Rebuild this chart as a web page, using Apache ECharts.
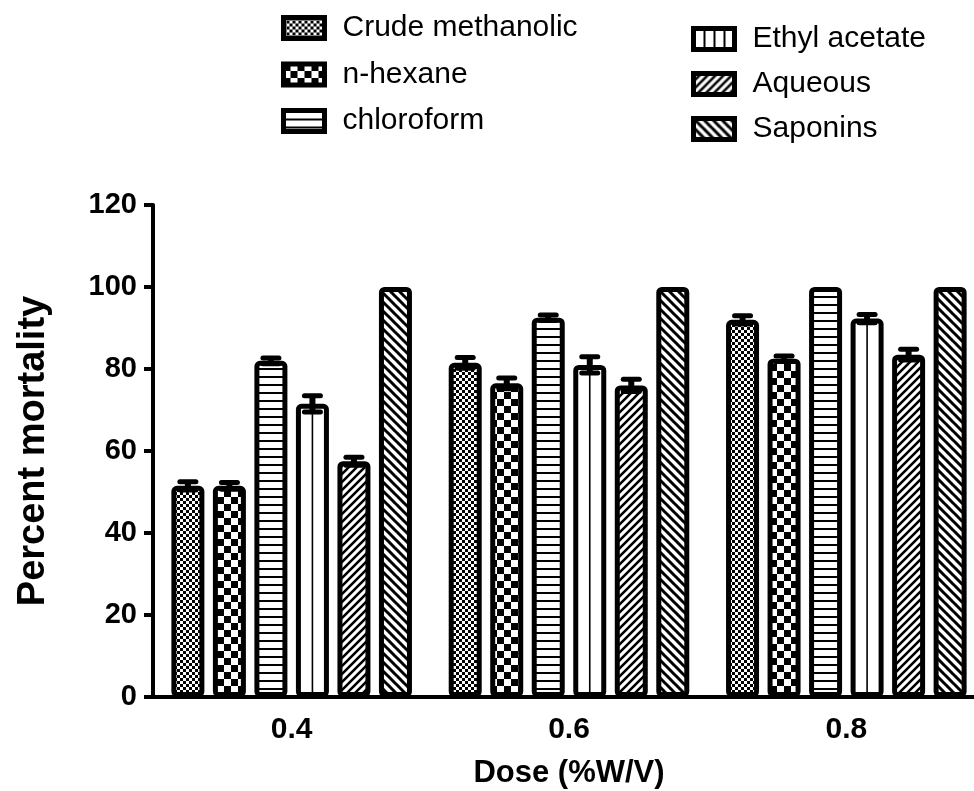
<!DOCTYPE html>
<html>
<head>
<meta charset="utf-8">
<script src="https://cdn.jsdelivr.net/npm/echarts@6/dist/echarts.min.js"></script>
<style>
html,body{margin:0;padding:0;background:#fff;}
#chart{width:974px;height:791px;}
</style>
</head>
<body>
<div id="chart"></div>
<script>
// ---- data ----
const categories = ['0.4', '0.6', '0.8'];
const seriesNames = ['Crude methanolic', 'n-hexane', 'chloroform', 'Ethyl acetate', 'Aqueous', 'Saponins'];
const crudeMethanolic = [51.5, 81.5, 92];
const nHexane = [51.5, 76.5, 82.5];
const chloroform = [82, 92.5, 100];
const ethylAcetate = [71.5, 81, 92.3];
const aqueous = [57.5, 76, 83.5];
const saponins = [100, 100, 100];
const crudeMethanolicErr = [1, 1.3, 1];
const nHexaneErr = [0.8, 1.3, 0.7];
const chloroformErr = [0.7, 0.7, 0];
const ethylAcetateErr = [2, 2, 1];
const aqueousErr = [1, 1.5, 1.3];
const saponinsErr = [0, 0, 0];
const yTicks = [0, 20, 40, 60, 80, 100, 120];

const values = [crudeMethanolic, nHexane, chloroform, ethylAcetate, aqueous, saponins];
const errors = [crudeMethanolicErr, nHexaneErr, chloroformErr, ethylAcetateErr, aqueousErr, saponinsErr];

// ---- patterns ----
function makeCanvas(w, h, draw) {
  const c = document.createElement('canvas');
  c.width = w; c.height = h;
  const ctx = c.getContext('2d');
  ctx.fillStyle = '#fff'; ctx.fillRect(0, 0, w, h);
  ctx.fillStyle = '#000'; ctx.strokeStyle = '#000';
  draw(ctx, w, h);
  return c;
}
function checker(cell) {
  return makeCanvas(cell * 2, cell * 2, (ctx) => {
    ctx.fillRect(0, 0, cell, cell);
    ctx.fillRect(cell, cell, cell, cell);
  });
}
function hLines(period, thick) {
  return makeCanvas(period, period, (ctx) => { ctx.fillRect(0, 0, period, thick); });
}
function vLines(period, thick) {
  return makeCanvas(period, period, (ctx) => { ctx.fillRect(0, 0, thick, period); });
}
function diag(period, thick, forward) {
  return makeCanvas(period, period, (ctx, w, h) => {
    ctx.lineWidth = thick;
    ctx.beginPath();
    for (let k = -1; k <= 1; k++) {
      if (forward) { ctx.moveTo(k * w - 1, h + 1); ctx.lineTo(k * w + w + 1, -1); }
      else { ctx.moveTo(k * w - 1, -1); ctx.lineTo(k * w + w + 1, h + 1); }
    }
    ctx.stroke();
  });
}
const patterns = [
  checker(3),
  checker(7),
  hLines(8, 2),
  makeCanvas(4, 4, () => {}),
  diag(8, 2.6, true),
  diag(9, 3, false)
];
const ethylLegendPattern = vLines(10, 2);

const BAR_W = 33, BAR_GAP = 0.258;
const STEP = BAR_W * (1 + BAR_GAP);

const barSeries = seriesNames.map((name, i) => ({
  name: name,
  type: 'bar',
  data: values[i],
  barWidth: BAR_W,
  barGap: (BAR_GAP * 100) + '%',
  itemStyle: {
    color: { image: patterns[i], repeat: 'repeat' },
    borderColor: '#000',
    borderWidth: 5,
    borderRadius: 3
  },
  z: 2
}));

const errData = [];
for (let s = 0; s < seriesNames.length; s++) {
  for (let c = 0; c < categories.length; c++) {
    errData.push([c, s, values[s][c], errors[s][c]]);
  }
}

const errSeries = {
  type: 'custom',
  name: 'err',
  z: 5,
  silent: true,
  clip: false,
  encode: { x: 0, y: 2 },
  data: errData,
  renderItem: function (params, api) {
    const c = api.value(0), s = api.value(1), v = api.value(2), e = api.value(3);
    const base = api.coord([c, v]);
    const x = base[0] + (s - 2.5) * STEP;
    const children = [];
    if (s === 3) {
      const y0 = api.coord([c, 0])[1];
      children.push({ type: 'line', shape: { x1: x, y1: y0, x2: x, y2: base[1] }, style: { stroke: '#000', lineWidth: 1.6 } });
    }
    if (e > 0) {
      const yt = api.coord([c, v + e])[1];
      const yb = api.coord([c, v - e])[1];
      const hw = 8;
      children.push({ type: 'line', shape: { x1: x, y1: yt, x2: x, y2: yb }, style: { stroke: '#000', lineWidth: 6 } });
      children.push({ type: 'line', shape: { x1: x - hw, y1: yt, x2: x + hw, y2: yt }, style: { stroke: '#000', lineWidth: 5, lineCap: 'round' } });
      children.push({ type: 'line', shape: { x1: x - hw, y1: yb, x2: x + hw, y2: yb }, style: { stroke: '#000', lineWidth: 5, lineCap: 'round' } });
    }
    return { type: 'group', children: children };
  }
};

const legendText = {
  fontFamily: 'Liberation Sans, Arial, sans-serif',
  fontSize: 30,
  color: '#000',
  lineHeight: 30,
  padding: [0, 0, 0, 13]
};
const legendItemStyle = { borderColor: '#000', borderWidth: 5, borderRadius: 3 };

const chart = echarts.init(document.getElementById('chart'), null, { renderer: 'canvas' });
chart.setOption({
  animation: false,
  backgroundColor: '#fff',
  legend: [
    {
      data: seriesNames.slice(0, 3).map(n => ({ name: n, icon: 'rect' })),
      orient: 'vertical',
      left: 276,
      top: 8,
      itemWidth: 41,
      itemHeight: 21,
      itemGap: 16.5,
      selectedMode: false,
      textStyle: legendText,
      itemStyle: legendItemStyle
    },
    {
      data: seriesNames.slice(3).map((n, k) => k === 0
        ? { name: n, icon: 'rect', itemStyle: { color: { image: ethylLegendPattern, repeat: 'repeat' } } }
        : { name: n, icon: 'rect' }),
      orient: 'vertical',
      left: 686,
      top: 19,
      itemWidth: 41,
      itemHeight: 21,
      itemGap: 15,
      selectedMode: false,
      textStyle: legendText,
      itemStyle: legendItemStyle
    }
  ],
  grid: { left: 153, top: 205, width: 832, height: 492, containLabel: false, outerBoundsMode: 'none' },
  xAxis: {
    type: 'category',
    data: categories,
    name: 'Dose (%W/V)',
    nameLocation: 'middle',
    nameGap: 61,
    nameTextStyle: { fontFamily: 'Liberation Sans, Arial, sans-serif', fontSize: 31, fontWeight: 'bold', color: '#000' },
    axisLine: { lineStyle: { color: '#000', width: 4 } },
    axisTick: { alignWithLabel: true, length: 9, lineStyle: { color: '#000', width: 4 } },
    axisLabel: { margin: 18, fontFamily: 'Liberation Sans, Arial, sans-serif', fontSize: 30, fontWeight: 'bold', color: '#000' },
    splitLine: { show: false }
  },
  yAxis: {
    type: 'value',
    min: yTicks[0],
    max: yTicks[yTicks.length - 1],
    interval: yTicks[1] - yTicks[0],
    name: 'Percent mortality',
    nameLocation: 'middle',
    nameRotate: 90,
    nameGap: 100,
    nameTextStyle: { fontFamily: 'Liberation Sans, Arial, sans-serif', fontSize: 38, fontWeight: 'bold', color: '#000' },
    axisLine: { show: true, lineStyle: { color: '#000', width: 4 } },
    axisTick: { show: true, length: 9, lineStyle: { color: '#000', width: 4 } },
    axisLabel: { margin: 16, fontFamily: 'Liberation Sans, Arial, sans-serif', fontSize: 29, fontWeight: 'bold', color: '#000' },
    splitLine: { show: false }
  },
  series: barSeries.concat([errSeries])
});
</script>
</body>
</html>
